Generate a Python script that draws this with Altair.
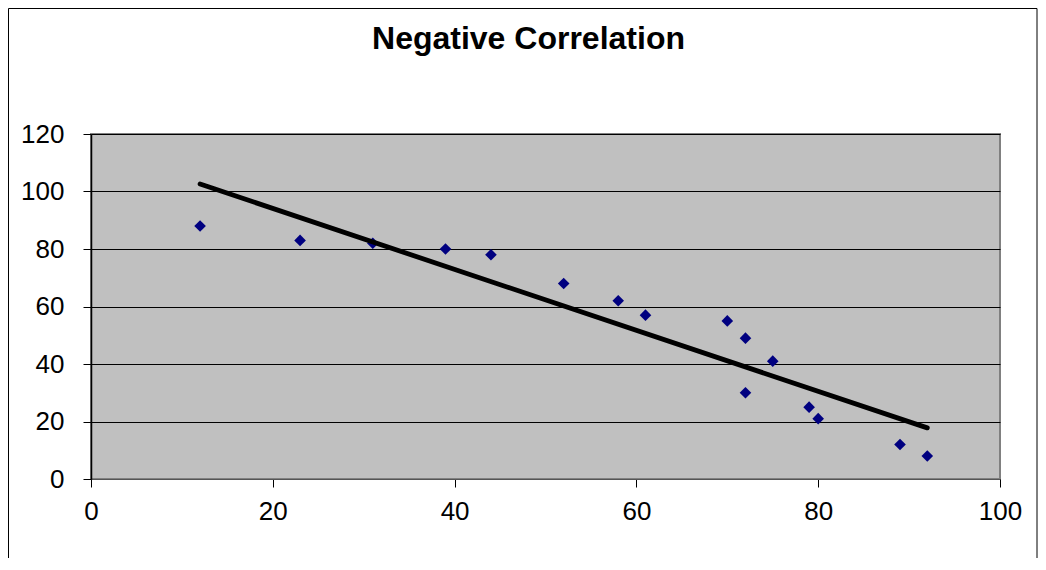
import altair as alt
import pandas as pd

x_vals = [12, 23, 31, 39, 44, 52, 58, 61, 70, 72, 72, 75, 79, 80, 89, 92]
y_vals = [88, 83, 82, 80, 78, 68, 62, 57, 55, 49, 30, 41, 25, 21, 12, 8]
x_ticks = [0, 20, 40, 60, 80, 100]
y_ticks = [0, 20, 40, 60, 80, 100, 120]
title_text = "Negative Correlation"

df = pd.DataFrame({"x": x_vals, "y": y_vals})

W, H = 909, 345
PL, PT, PR, PB = 83, 126, 38, 79
FONT = "Liberation Sans"

xenc = alt.X("x:Q", scale=alt.Scale(domain=[0, 100], nice=False, zero=True),
             axis=alt.Axis(values=x_ticks, title=None, grid=False, tickSize=8,
                           tickColor="#000000", domainColor="#555555", domainWidth=1,
                           labelFontSize=26, labelFont=FONT, labelColor="#000000",
                           labelPadding=11, labelFlush=False))
yenc = alt.Y("y:Q", scale=alt.Scale(domain=[0, 120], nice=False),
             axis=alt.Axis(values=y_ticks, title=None, grid=True, gridColor="#000000",
                           gridWidth=1, gridOpacity=1, tickSize=8, tickColor="#000000",
                           domainColor="#000000", domainWidth=1.5,
                           labelFontSize=26, labelFont=FONT, labelColor="#000000",
                           labelPadding=19, labelFlush=False))

points = alt.Chart(df).mark_point(shape="diamond", filled=True, color="#000080",
                                  size=135, opacity=1).encode(x=xenc, y=yenc)

trend = alt.Chart(df).transform_regression("x", "y").mark_line(
    color="#000000", strokeWidth=4.8, strokeCap="round").encode(x="x:Q", y="y:Q")

frame = alt.Chart(pd.DataFrame({"a": [0]})).mark_rect(
    filled=False, stroke="#000000", strokeWidth=1
).encode(x=alt.value(-82.5), x2=alt.value(W + PR - 1),
         y=alt.value(-PT + 0.5), y2=alt.value(H + PB + 20))

chart = alt.layer(frame, points, trend).properties(
    width=W, height=H,
    background="#FFFFFF",
    padding={"left": PL, "top": PT, "right": PR, "bottom": PB},
    autosize=alt.AutoSizeParams(type="none"),
    title=alt.TitleParams(title_text, fontSize=32, fontWeight="bold", font=FONT,
                          color="#000000", anchor="middle", frame="group",
                          baseline="alphabetic", offset=0, dy=73, dx=-17),
).configure_view(fill="#C0C0C0", stroke="#808080", strokeWidth=2)

chart.save("out.html", embed_options={"renderer": "svg", "actions": False})
